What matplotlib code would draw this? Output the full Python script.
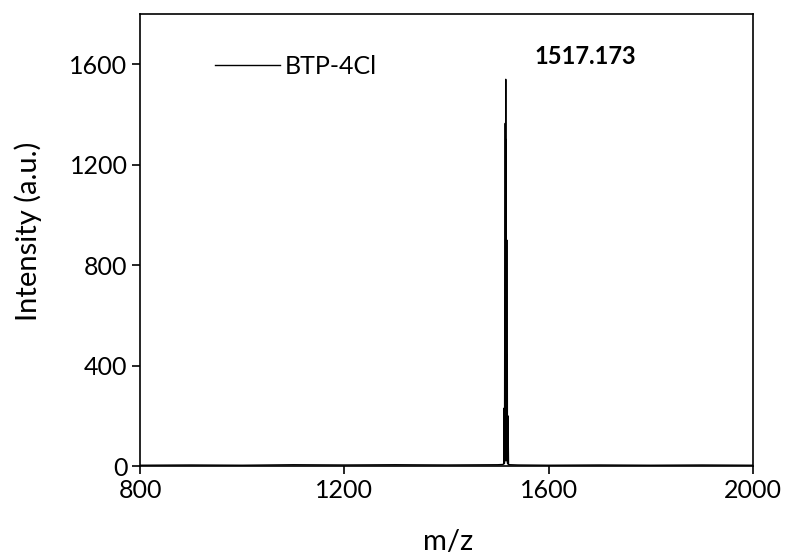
import matplotlib
matplotlib.use("Agg")
import matplotlib.pyplot as plt

mz = [800, 900, 1000, 1100, 1200, 1300, 1400, 1500, 1510, 1512.0, 1512.6, 1513.0, 1513.3,
      1513.6, 1514.0, 1514.3, 1514.6, 1515.0, 1515.3, 1515.6, 1516.0, 1516.3, 1516.6,
      1517.0, 1517.3, 1517.6, 1518.0, 1518.3, 1518.6, 1519.0, 1519.3, 1519.6, 1520.0,
      1520.3, 1520.6, 1521.0, 1521.4, 1522.0, 1525, 1540, 1600, 1700, 1800, 1900, 2000]
intensity = [3, 4, 3, 5, 4, 5, 4, 5, 6, 8, 10, 231, 10,
             20, 561, 20, 30, 1365, 40, 40, 1540, 40, 40,
             1300, 30, 30, 900, 30, 20, 442, 20, 10, 200,
             10, 8, 80, 6, 5, 5, 4, 3, 4, 3, 4, 3]

xticks = [800, 1200, 1600, 2000]
yticks = [0, 400, 800, 1200, 1600]
peak_label = "1517.173"
series_name = "BTP-4Cl"

plt.rcParams['font.family'] = ['Lato', 'DejaVu Sans']
fig = plt.figure(figsize=(7.88, 5.6), dpi=100)
ax = fig.add_axes([140/788, 1-466/560, 613/788, 452/560])
ax.plot(mz, intensity, color='black', lw=1.0, label=series_name)
ax.set_xlim(800, 2000)
ax.set_ylim(0, 1800)
ax.set_xticks(xticks)
ax.set_yticks(yticks)
ax.tick_params(direction='out', length=6, width=1.2, labelsize=18, pad=3)
for s in ax.spines.values():
    s.set_linewidth(1.2)
ax.set_xlabel("m/z", fontsize=21)
ax.xaxis.set_label_coords(0.502, -0.14)
ax.set_ylabel("Intensity (a.u.)", fontsize=21)
ax.yaxis.set_label_coords(-0.16, 0.52)
ax.text(0.726, 0.905, peak_label, transform=ax.transAxes, fontsize=17, fontweight='bold',
        ha='center', va='center')
ax.legend(loc='center left', bbox_to_anchor=(0.122, 0.884), frameon=False, fontsize=18,
          handlelength=2.6, handletextpad=0.2, borderpad=0, borderaxespad=0)
fig.savefig("out.png", dpi=100)
